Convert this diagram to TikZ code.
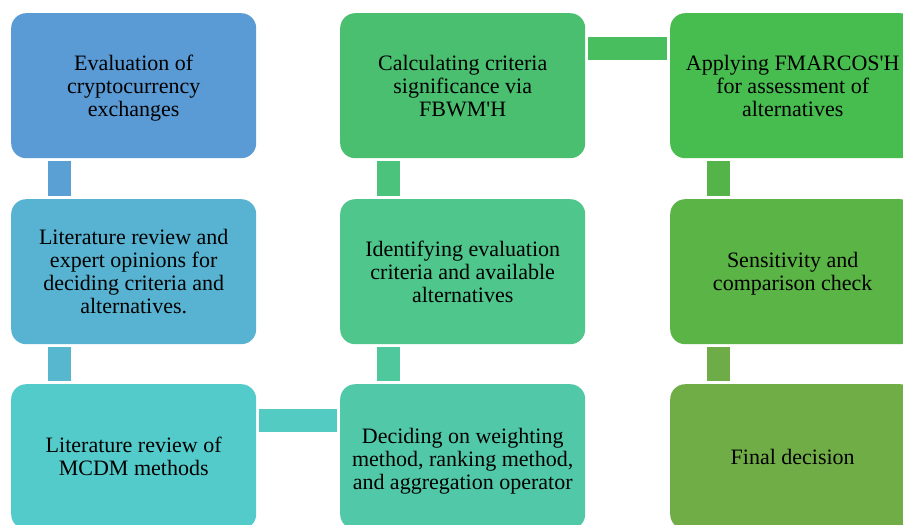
\documentclass[tikz,border=0pt]{standalone}
\usepackage{fontspec}
\setmainfont{Liberation Serif}
\definecolor{cA}{HTML}{5B9BD5}
\definecolor{kA}{HTML}{5AA0D4}
\definecolor{cB}{HTML}{57B3D1}
\definecolor{kB}{HTML}{56B7CF}
\definecolor{cC}{HTML}{54CBCB}
\definecolor{kC}{HTML}{53CBC3}
\definecolor{cD}{HTML}{51C9A9}
\definecolor{kD}{HTML}{50C89D}
\definecolor{cE}{HTML}{4EC68C}
\definecolor{kE}{HTML}{4CC37D}
\definecolor{cF}{HTML}{4ABF6F}
\definecolor{kF}{HTML}{49BE5E}
\definecolor{cG}{HTML}{47BC4F}
\definecolor{kG}{HTML}{55B449}
\definecolor{cH}{HTML}{5BB446}
\definecolor{kH}{HTML}{6EAC47}
\definecolor{cI}{HTML}{70AD47}
\newcommand\boxtext[2][3pt]{\raisebox{-#1}[\height][\depth]{\begin{tabular}{@{}c@{}}#2\end{tabular}}}
\tikzset{
  stepbox/.style={rectangle, rounded corners=15pt, minimum width=245pt, minimum height=145pt,
    inner sep=0pt, anchor=north west, text=black,
    font=\fontsize{22}{23}\selectfont},
  link/.style={line width=23pt, shorten <=3pt, shorten >=3pt, line cap=butt}
}
\begin{document}
\begin{tikzpicture}[x=1pt,y=-1pt]
\clip (0,0) rectangle (903,525);
\useasboundingbox (0,0) rectangle (903,525);
\fill[white] (0,0) rectangle (903,525);
\node[stepbox, fill=cA] (a) at (11,13) {\boxtext{Evaluation of\\cryptocurrency\\exchanges}};
\node[stepbox, fill=cB] (b) at (11,199) {\boxtext{Literature review and\\expert opinions for\\deciding criteria and\\alternatives.}};
\node[stepbox, fill=cC] (c) at (11,384) {\boxtext{Literature review of\\MCDM methods}};
\node[stepbox, fill=cD] (d) at (340,384) {\boxtext[5.5pt]{Deciding on weighting\\method, ranking method,\\and aggregation operator}};
\node[stepbox, fill=cE] (e) at (340,199) {\boxtext{Identifying evaluation\\criteria and available\\alternatives}};
\node[stepbox, fill=cF] (f) at (340,13) {\boxtext{Calculating criteria\\significance via\\FBWM\textquotesingle H}};
\node[stepbox, fill=cG] (g) at (670,13) {\boxtext{Applying FMARCOS\textquotesingle H\\for assessment of\\alternatives}};
\node[stepbox, fill=cH] (h) at (670,199) {\boxtext[2.5pt]{Sensitivity and\\comparison check}};
\node[stepbox, fill=cI] (i) at (670,384) {\boxtext{Final decision}};
\draw[link, kA] ([xshift=48.5pt]a.south west) -- ([xshift=48.5pt]b.north west);
\draw[link, kB] ([xshift=48.5pt]b.south west) -- ([xshift=48.5pt]c.north west);
\draw[link, kC] ([yshift=-36.5pt]c.north east) -- ([yshift=-36.5pt]d.north west);
\draw[link, kD] ([xshift=48.5pt]d.north west) -- ([xshift=48.5pt]e.south west);
\draw[link, kE] ([xshift=48.5pt]e.north west) -- ([xshift=48.5pt]f.south west);
\draw[link, kF] ([yshift=-35.5pt]f.north east) -- ([yshift=-35.5pt]g.north west);
\draw[link, kG] ([xshift=48.5pt]g.south west) -- ([xshift=48.5pt]h.north west);
\draw[link, kH] ([xshift=48.5pt]h.south west) -- ([xshift=48.5pt]i.north west);
\end{tikzpicture}
\end{document}
